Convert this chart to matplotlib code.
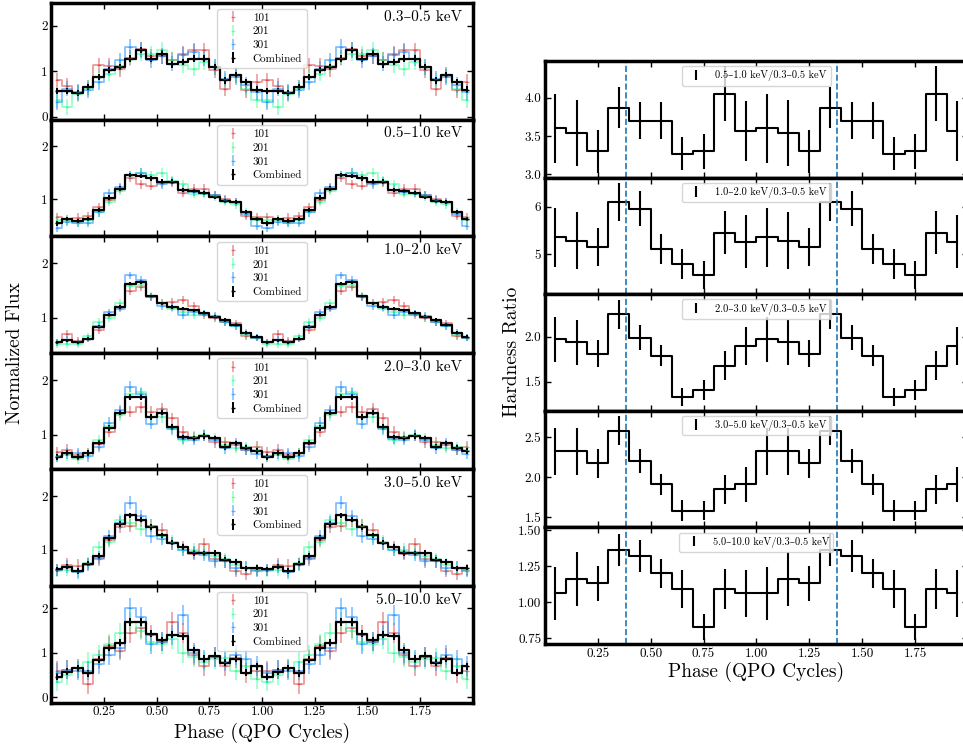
import numpy as np
import matplotlib
matplotlib.use('Agg')
import matplotlib.pyplot as plt

plt.rcParams['font.family'] = ['cmr10', 'DejaVu Serif']
plt.rcParams['mathtext.fontset'] = 'cm'
plt.rcParams['axes.formatter.use_mathtext'] = True

# ---------------- data (one QPO cycle, shown twice) ----------------
bands = ['0.3–0.5 keV', '0.5–1.0 keV', '1.0–2.0 keV', '2.0–3.0 keV', '3.0–5.0 keV', '5.0–10.0 keV']
obs_labels = ['101', '201', '301', 'Combined']

combined = [
    [0.57, 0.57, 0.52, 0.65, 0.88, 1.03, 1.10, 1.28, 1.47, 1.28, 1.39, 1.15, 1.20, 1.28, 1.28, 1.10, 0.80, 0.92, 0.77, 0.60],
    [0.54, 0.62, 0.59, 0.62, 0.79, 1.03, 1.20, 1.45, 1.43, 1.39, 1.33, 1.33, 1.17, 1.15, 1.12, 1.04, 0.97, 0.95, 0.76, 0.62],
    [0.55, 0.59, 0.55, 0.62, 0.84, 1.06, 1.20, 1.63, 1.66, 1.40, 1.27, 1.20, 1.17, 1.14, 1.09, 1.02, 0.96, 0.87, 0.73, 0.65],
    [0.59, 0.66, 0.59, 0.66, 0.85, 1.12, 1.40, 1.69, 1.69, 1.32, 1.40, 1.14, 0.95, 0.93, 0.97, 0.93, 0.77, 0.84, 0.76, 0.70],
    [0.63, 0.68, 0.60, 0.74, 0.88, 1.22, 1.48, 1.64, 1.56, 1.42, 1.27, 1.13, 1.05, 0.94, 0.93, 0.94, 0.81, 0.77, 0.65, 0.66],
    [0.46, 0.57, 0.65, 0.54, 0.84, 1.11, 1.23, 1.69, 1.69, 1.43, 1.28, 1.41, 1.37, 1.06, 0.86, 0.93, 0.78, 0.87, 0.55, 0.70],
]
obs101 = [
    [0.80, 0.68, 0.52, 0.65, 1.13, 1.12, 1.05, 1.30, 1.48, 1.33, 1.33, 1.25, 1.39, 1.46, 1.46, 1.03, 0.62, 0.92, 0.58, 0.77],
    [0.66, 0.62, 0.65, 0.68, 0.85, 0.98, 1.20, 1.40, 1.28, 1.25, 1.30, 1.30, 1.12, 1.20, 1.20, 1.08, 1.00, 0.95, 0.68, 0.66],
    [0.55, 0.70, 0.58, 0.62, 0.78, 1.05, 1.20, 1.50, 1.57, 1.38, 1.27, 1.30, 1.33, 1.22, 1.05, 1.00, 0.93, 0.90, 0.66, 0.64],
    [0.68, 0.72, 0.62, 0.66, 0.82, 1.05, 1.40, 1.42, 1.50, 1.42, 1.47, 1.30, 1.05, 0.95, 0.98, 0.86, 0.86, 0.80, 0.72, 0.78],
    [0.62, 0.72, 0.70, 0.73, 0.82, 1.18, 1.43, 1.45, 1.55, 1.45, 1.37, 1.12, 1.05, 0.92, 1.10, 0.82, 0.78, 0.60, 0.55, 0.62],
    [0.60, 0.62, 0.65, 0.30, 0.85, 1.15, 1.05, 1.45, 1.55, 1.40, 1.25, 1.70, 1.45, 0.95, 0.70, 0.90, 0.70, 0.88, 0.55, 0.60],
]
obs201 = [
    [0.37, 0.22, 0.50, 0.63, 0.88, 0.95, 1.12, 1.28, 1.39, 1.39, 1.47, 1.25, 1.14, 1.06, 1.20, 1.10, 0.80, 0.92, 0.62, 0.37],
    [0.60, 0.60, 0.55, 0.60, 0.75, 0.95, 1.15, 1.45, 1.50, 1.45, 1.50, 1.35, 1.28, 1.10, 1.10, 1.05, 0.95, 0.90, 0.76, 0.60],
    [0.52, 0.52, 0.52, 0.66, 0.92, 1.00, 1.27, 1.58, 1.60, 1.40, 1.27, 1.17, 1.10, 1.05, 1.08, 1.02, 0.92, 0.85, 0.68, 0.64],
    [0.60, 0.62, 0.56, 0.66, 0.90, 1.15, 1.35, 1.75, 1.78, 1.32, 1.32, 1.12, 0.90, 0.96, 1.00, 0.92, 0.80, 0.76, 0.77, 0.72],
    [0.60, 0.62, 0.60, 0.75, 1.05, 1.15, 1.55, 1.50, 1.38, 1.45, 1.25, 1.15, 1.00, 1.00, 0.95, 0.88, 0.82, 0.72, 0.66, 0.62],
    [0.35, 0.50, 0.65, 0.80, 0.95, 1.20, 1.45, 1.70, 1.50, 1.25, 1.20, 1.30, 1.00, 0.90, 0.80, 0.85, 0.88, 0.60, 0.70, 0.40],
]
obs301 = [
    [0.33, 0.62, 0.55, 0.59, 0.77, 1.06, 1.24, 1.54, 1.47, 1.25, 1.34, 1.17, 1.36, 1.43, 1.28, 1.10, 0.84, 0.88, 0.70, 0.55],
    [0.45, 0.57, 0.55, 0.55, 0.75, 1.12, 1.22, 1.45, 1.50, 1.40, 1.28, 1.33, 1.18, 1.14, 1.12, 1.08, 0.98, 0.95, 0.72, 0.50],
    [0.55, 0.60, 0.55, 0.62, 0.86, 1.10, 1.17, 1.78, 1.70, 1.38, 1.22, 1.20, 1.05, 1.10, 1.08, 1.04, 0.92, 0.85, 0.73, 0.64],
    [0.60, 0.66, 0.66, 0.60, 0.78, 1.22, 1.45, 1.88, 1.75, 1.20, 1.40, 1.10, 0.92, 0.90, 0.98, 0.90, 0.75, 0.84, 0.72, 0.65],
    [0.62, 0.68, 0.58, 0.72, 0.85, 1.25, 1.50, 1.88, 1.62, 1.25, 1.20, 1.12, 1.00, 0.95, 0.90, 0.78, 0.78, 0.65, 0.66, 0.60],
    [0.55, 0.62, 0.60, 0.60, 0.75, 0.95, 1.10, 2.00, 1.80, 1.20, 1.25, 1.40, 1.85, 1.00, 0.85, 0.90, 0.80, 0.95, 0.85, 0.70],
]
err_obs = [0.17, 0.08, 0.07, 0.10, 0.12, 0.22]
err_comb = [0.07, 0.04, 0.03, 0.05, 0.05, 0.08]

hr_labels = ['0.5–1.0 keV/0.3–0.5 keV', '1.0–2.0 keV/0.3–0.5 keV', '2.0–3.0 keV/0.3–0.5 keV',
             '3.0–5.0 keV/0.3–0.5 keV', '5.0–10.0 keV/0.3–0.5 keV']
hr_vals = [
    [3.60, 3.54, 3.30, 3.87, 3.70, 3.70, 3.27, 3.30, 4.05, 3.57],
    [5.35, 5.28, 5.15, 6.10, 5.96, 5.10, 4.79, 4.56, 5.45, 5.26],
    [1.97, 1.94, 1.81, 2.25, 1.99, 1.79, 1.33, 1.41, 1.68, 1.90],
    [2.32, 2.32, 2.17, 2.58, 2.20, 1.91, 1.58, 1.58, 1.85, 1.91],
    [1.06, 1.16, 1.13, 1.36, 1.32, 1.20, 1.09, 0.83, 1.09, 1.06],
]
hr_errs = [
    [0.45, 0.43, 0.28, 0.27, 0.24, 0.24, 0.22, 0.23, 0.36, 0.39],
    [0.63, 0.60, 0.40, 0.40, 0.37, 0.32, 0.31, 0.30, 0.46, 0.56],
    [0.25, 0.25, 0.15, 0.16, 0.14, 0.12, 0.10, 0.11, 0.16, 0.21],
    [0.29, 0.29, 0.18, 0.18, 0.15, 0.13, 0.13, 0.12, 0.18, 0.22],
    [0.185, 0.19, 0.12, 0.11, 0.11, 0.10, 0.13, 0.09, 0.14, 0.16],
]
vline_phases = [0.382, 1.382]
xtick_vals = [0.25, 0.50, 0.75, 1.00, 1.25, 1.50, 1.75]

n_flux_bins = 20
n_hr_bins = 10
phase_flux = (np.arange(2 * n_flux_bins) + 0.5) / n_flux_bins
phase_hr = (np.arange(2 * n_hr_bins) + 0.5) / n_hr_bins

# ---------------- style ----------------
obs_colors = ['tab:red', 'springgreen', 'dodgerblue']
obs_alpha = [0.5, 0.45, 0.6]
left_ylims = [(-0.06, 2.5), (0.30, 2.5), (0.36, 2.5), (0.36, 2.5), (0.32, 2.5), (-0.12, 2.5)]
right_ylims = [(2.957, 4.48), (4.15, 6.615), (1.177, 2.472), (1.374, 2.826), (0.71, 1.518)]
right_yticks = [[3.0, 3.5, 4.0], [5, 6], [1.5, 2.0], [1.5, 2.0, 2.5], [0.75, 1.00, 1.25, 1.50]]
left_yticks = [[0, 1, 2], [1, 2], [1, 2], [1, 2], [1, 2], [0, 1, 2]]

W, H = 963, 747
fig = plt.figure(figsize=(W / 100, H / 100), dpi=100)

def style_ax(ax):
    for s in ax.spines.values():
        s.set_linewidth(2.5)
    ax.tick_params(direction='in', top=True, right=True, length=4, width=1,
                   labelsize=9.5, pad=2.5)
    ax.set_xlim(0, 2)
    ax.set_xticks(xtick_vals)

panel_h = 116.6 / H
left_x, left_w = 51.3 / W, 421.4 / W
left_top = 1 - 3 / H
for i in range(6):
    ax = fig.add_axes([left_x, left_top - (i + 1) * panel_h, left_w, panel_h])
    series = [obs101[i], obs201[i], obs301[i]]
    for j in range(3):
        y = np.tile(series[j], 2)
        ax.step(phase_flux, y, where='mid', color=obs_colors[j], alpha=obs_alpha[j], lw=1.2)
        ax.errorbar(phase_flux, y, yerr=err_obs[i], fmt='_', ms=3, color=obs_colors[j],
                    alpha=obs_alpha[j], elinewidth=1.1, label=obs_labels[j])
    yc = np.tile(combined[i], 2)
    ax.step(phase_flux, yc, where='mid', color='k', lw=1.6)
    ax.errorbar(phase_flux, yc, yerr=err_comb[i], fmt='_', ms=3, color='k',
                elinewidth=1.4, label=obs_labels[3])
    style_ax(ax)
    ax.set_ylim(*left_ylims[i])
    ax.set_yticks(left_yticks[i])
    ax.set_yticklabels([str(v) for v in left_yticks[i]])
    if i < 5:
        ax.tick_params(labelbottom=False)
    else:
        ax.set_xticklabels(['%.2f' % v for v in xtick_vals])
    ax.text(0.975, 0.94, bands[i], transform=ax.transAxes, ha='right', va='top', fontsize=11)
    ax.legend(loc='upper center', fontsize=8, borderaxespad=0.5, labelspacing=0.35)

right_x, right_w = 544.8 / W, 423.2 / W
right_top = 1 - 61 / H
for i in range(5):
    ax = fig.add_axes([right_x, right_top - (i + 1) * panel_h, right_w, panel_h])
    y = np.tile(hr_vals[i], 2)
    e = np.tile(hr_errs[i], 2)
    ax.step(phase_hr, y, where='mid', color='k', lw=1.5)
    ax.errorbar(phase_hr, y, yerr=e, fmt='none', ecolor='k', elinewidth=1.5, label=hr_labels[i])
    for v in vline_phases:
        ax.axvline(v, color='tab:blue', ls='--', lw=1.2)
    style_ax(ax)
    ax.set_ylim(*right_ylims[i])
    ax.set_yticks(right_yticks[i])
    if i == 4:
        ax.set_yticklabels(['%.2f' % v for v in right_yticks[i]])
        ax.set_xticklabels(['%.2f' % v for v in xtick_vals])
    else:
        ax.set_yticklabels([('%g' % v) if isinstance(v, int) else '%.1f' % v for v in right_yticks[i]])
        ax.tick_params(labelbottom=False)
    ax.legend(loc='upper center', fontsize=7.5, borderaxespad=0.5)

fig.text(15 / W, 1 - 353 / H, 'Normalized Flux', rotation=90, ha='center', va='center', fontsize=14)
fig.text(262 / W, 1 - 733 / H, 'Phase (QPO Cycles)', ha='center', va='center', fontsize=14)
fig.text(512 / W, 1 - 352 / H, 'Hardness Ratio', rotation=90, ha='center', va='center', fontsize=14)
fig.text(756 / W, 1 - 672 / H, 'Phase (QPO Cycles)', ha='center', va='center', fontsize=14)

fig.savefig('out.png', dpi=100)
